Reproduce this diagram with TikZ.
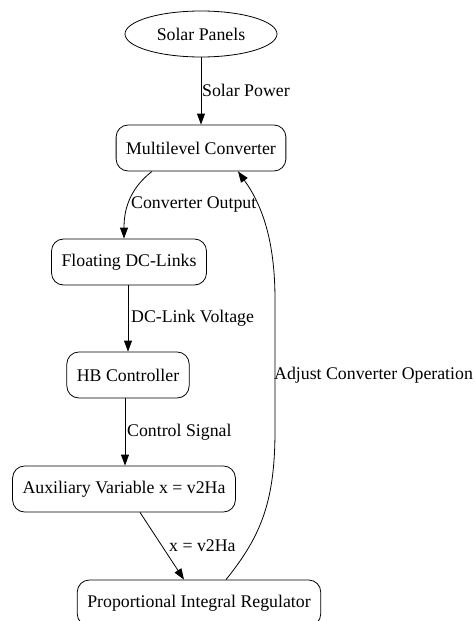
\documentclass[tikz,border=0pt]{standalone}
\usepackage{fontspec}
\setmainfont{Liberation Serif}
\usepackage{tikz}
\usetikzlibrary{arrows.meta,shapes.geometric}

\tikzset{
  block/.style={draw,thick,rounded corners=12pt,minimum height=46pt,inner xsep=10pt,font=\fontsize{17.8}{21}\selectfont},
  source/.style={draw,thick,ellipse,minimum width=152pt,minimum height=46pt,inner sep=0pt,font=\fontsize{17.8}{21}\selectfont},
  lbl/.style={anchor=west,inner sep=0pt,font=\fontsize{17.8}{21}\selectfont},
  edge/.style={thick,-{Triangle[length=11pt,width=8pt]}}
}

\begin{document}
\begin{tikzpicture}[x=1pt,y=-1pt]
\useasboundingbox (0,0) rectangle (476,621);
% blocks
\node[source] (sp) at (201,34) {Solar Panels};
\node[block] (mc) at (201,148) {Multilevel Converter};
\node[block] (fdc) at (129,262) {Floating DC-Links};
\node[block] (hb) at (128,375) {HB Controller};
\node[block] (aux) at (124,489) {Auxiliary Variable x = v2Ha};
\node[block] (pi) at (199,603) {Proportional Integral Regulator};
% connectors
\draw[edge] (sp) -- (mc);
\draw[edge] ([xshift=-49pt]mc.south) .. controls (128,190) and (124,212) .. ([xshift=-5pt]fdc.north);
\draw[edge] ([xshift=-1pt]fdc.south) -- ([xshift=0pt]hb.north);
\draw[edge] ([xshift=-3pt]hb.south) -- ([xshift=1pt]aux.north);
\draw[edge] ([xshift=16pt]aux.south) -- ([xshift=-15pt]pi.north);
\draw[edge] ([xshift=27pt]pi.north) .. controls (262,535) and (275,500) .. (275,430)
  -- (275,300) .. controls (275,240) and (262,205) .. ([xshift=37pt]mc.south);
% labels
\node[lbl] (l1) at (202,90) {Solar Power};
\node[lbl] (l2) at (131,204) {Converter Output};
\node[lbl] (l3) at (131,318) {DC-Link Voltage};
\node[lbl] (l4) at (127,432) {Control Signal};
\node[lbl] (l5) at (169,546) {x = v2Ha};
\node[lbl] (l6) at (274,375) {Adjust Converter Operation};
\end{tikzpicture}
\end{document}
